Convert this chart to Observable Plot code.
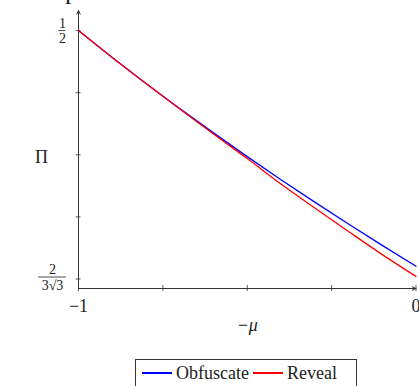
<!DOCTYPE html>
<html>
<head>
<meta charset="utf-8">
<script src="https://cdn.jsdelivr.net/npm/d3@7"></script>
<script src="https://cdn.jsdelivr.net/npm/@observablehq/plot@0.6"></script>
<style>
  html, body { margin: 0; padding: 0; background: #fff; overflow: hidden; }
  #wrap { position: relative; width: 419px; height: 386px; font-family: "Liberation Serif", serif; color: #222; }
  #title { position: absolute; left: 0; width: 419px; top: -22px; text-align: center; font-size: 26px; line-height: 26px; white-space: nowrap; }
  #legend { position: absolute; left: 135px; top: 359px; width: 222px; height: 28px; border: 1px solid #333; box-sizing: border-box;
            display: flex; align-items: center; font-size: 18px; padding-left: 6px; font-family: "Liberation Serif", serif; }
  .sw { display: inline-block; width: 30px; height: 1.5px; margin-right: 4px; }
  .item { display: flex; align-items: center; margin-right: 4px; }
  #chart svg text { font-family: "Liberation Serif", serif; }
</style>
</head>
<body>
<div id="wrap">
  <div id="chart"></div>
  <div id="title">Comparison of Obfuscate and Reveal</div>
  <div id="legend"></div>
</div>
<script>
// ---- data ----
const mu = [-1, -0.9, -0.8, -0.7, -0.6, -0.5, -0.4, -0.3, -0.2, -0.1, 0];
const obfuscate = [0.5, 0.4875, 0.4755, 0.4639, 0.4526, 0.4416, 0.4309, 0.4205, 0.4104, 0.4005, 0.3908];
const reveal    = [0.5, 0.4875, 0.4755, 0.4637, 0.4521, 0.4407, 0.4289, 0.4178, 0.4069, 0.3962, 0.3861];
const seriesNames = ["Obfuscate", "Reveal"];
const seriesColors = ["#0000ff", "#ff0000"];
const xTicks = [-1, -0.75, -0.5, -0.25, 0];
const xTickLabels = ["−1", "", "", "", "0"];
const yLow = 2 / (3 * Math.sqrt(3));
const yTicks = [0, 1, 2, 3, 4].map(i => yLow + (0.5 - yLow) * i / 4);
// labelled y ticks as fractions
const yFracLabels = [
  {v: 0.5, num: "1", den: "2"},
  {v: yLow, num: "2", den: "3√3"}
];
const xLabel = "−μ";
const yLabel = "Π";

// ---- build ----
const rows = [];
seriesNames.forEach((s, k) => {
  const vals = k === 0 ? obfuscate : reveal;
  mu.forEach((m, i) => rows.push({mu: m, pi: vals[i], series: s}));
});
const yDom = [0.3805, 0.5093];
const axisColor = "#333";
const font = "Liberation Serif";

// per-label layout (pixels)
const fracLayout = [
  {dx: -16, dyNum: -7.5, dyDen: 8, dyBar: 0, inL: -19.7, inR: 350.2},
  {dx: -26, dyNum: -9.5, dyDen: 7, dyBar: -2, inL: -40, inR: 349.5}
];

const marks = [
  Plot.axisX({ticks: xTicks, tickSize: 6, dy: -3, tickFormat: () => "", stroke: axisColor, strokeWidth: 0.8}),
  Plot.axisY({ticks: yTicks, tickSize: 5, dx: 2.5, tickFormat: () => "", stroke: axisColor, strokeWidth: 0.8}),
  Plot.arrow([0], {x1: -1, y1: yDom[0], x2: 0, y2: yDom[0], stroke: axisColor, strokeWidth: 1, headLength: 6, headAngle: 50}),
  Plot.arrow([0], {x1: -1, y1: yDom[0], x2: -1, y2: yDom[1], stroke: axisColor, strokeWidth: 1, headLength: 6, headAngle: 50}),
  Plot.line(rows, {x: "mu", y: "pi", stroke: "series", strokeWidth: 1.3, curve: "monotone-x"}),
  Plot.text(xTicks.map((t, i) => ({t, l: xTickLabels[i]})).filter(d => d.l), {
    x: "t", frameAnchor: "bottom", dy: 18, text: "l", fontSize: 18, fontFamily: font, fill: "#222", lineAnchor: "middle"
  }),
  Plot.text([yLabel], {frameAnchor: "left", textAnchor: "middle", dx: -37, dy: 8, text: d => d, fontSize: 18, fontFamily: font, fill: "#222"}),
  Plot.text([xLabel], {frameAnchor: "bottom", dy: 42, text: d => d, fontSize: 18, fontFamily: font, fontStyle: "italic", fill: "#222"})
];
yFracLabels.forEach((f, i) => {
  const L = fracLayout[i];
  marks.push(
    Plot.text([f], {y: "v", frameAnchor: "left", textAnchor: "middle", dx: L.dx, dy: L.dyNum, text: "num", fontSize: 14, fontFamily: font, fill: "#222", lineAnchor: "middle"}),
    Plot.text([f], {y: "v", frameAnchor: "left", textAnchor: "middle", dx: L.dx, dy: L.dyDen, text: "den", fontSize: 14, fontFamily: font, fill: "#222", lineAnchor: "middle"}),
    Plot.ruleY([f], {y: "v", dy: L.dyBar, insetLeft: L.inL, insetRight: L.inR, stroke: "#222", strokeWidth: 0.8})
  );
});

const chart = Plot.plot({
  width: 419,
  height: 386,
  marginLeft: 78,
  marginRight: 3.5,
  marginTop: 10,
  marginBottom: 98,
  style: {background: "transparent", overflow: "visible", fontFamily: "Liberation Serif, serif"},
  x: {domain: [-1, 0], axis: null},
  y: {domain: yDom, axis: null},
  color: {domain: seriesNames, range: seriesColors},
  marks
});
document.getElementById("chart").appendChild(chart);

const lg = document.getElementById("legend");
seriesNames.forEach((s, k) => {
  const it = document.createElement("span");
  it.className = "item";
  const sw = document.createElement("span");
  sw.className = "sw";
  sw.style.background = seriesColors[k];
  it.appendChild(sw);
  it.appendChild(document.createTextNode(s));
  lg.appendChild(it);
});
</script>
</body>
</html>
